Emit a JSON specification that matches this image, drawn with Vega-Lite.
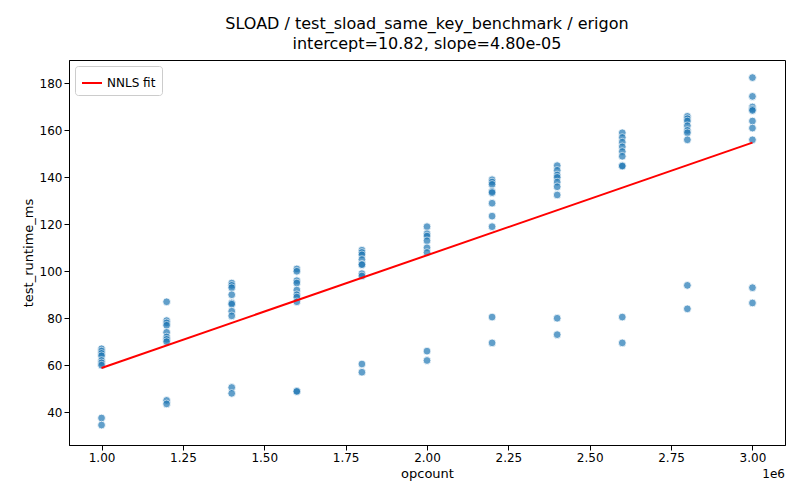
{
  "$schema": "https://vega.github.io/schema/vega-lite/v6.json",
  "width": 800,
  "height": 500,
  "autosize": {"type": "fit", "contains": "padding"},
  "padding": {"left": 22, "right": 15, "top": 16, "bottom": 20},
  "title": {
    "text": ["SLOAD / test_sload_same_key_benchmark / erigon", "intercept=10.82, slope=4.80e-05"],
    "fontSize": 16, "fontWeight": "normal", "font": "DejaVu Sans", "lineHeight": 20, "color": "black", "offset": 8
  },
  "config": {
    "font": "DejaVu Sans",
    "view": {"stroke": "black"},
    "axis": {"grid": false, "labelFontSize": 12, "titleFontSize": 13, "titleFontWeight": "normal", "domainColor": "black", "tickColor": "black", "labelColor": "black", "titleColor": "black"}
  },
  "datasets": {
    "pts": [
      {"opcount": 1000000, "ms": 67}, {"opcount": 1000000, "ms": 66}, {"opcount": 1000000, "ms": 65}, {"opcount": 1000000, "ms": 64}, {"opcount": 1000000, "ms": 62}, {"opcount": 1000000, "ms": 61}, {"opcount": 1000000, "ms": 60}, {"opcount": 1000000, "ms": 37.5}, {"opcount": 1000000, "ms": 34.5},
      {"opcount": 1200000, "ms": 87}, {"opcount": 1200000, "ms": 79}, {"opcount": 1200000, "ms": 78}, {"opcount": 1200000, "ms": 77}, {"opcount": 1200000, "ms": 74}, {"opcount": 1200000, "ms": 72}, {"opcount": 1200000, "ms": 71}, {"opcount": 1200000, "ms": 70}, {"opcount": 1200000, "ms": 45}, {"opcount": 1200000, "ms": 43.5},
      {"opcount": 1400000, "ms": 95}, {"opcount": 1400000, "ms": 94}, {"opcount": 1400000, "ms": 93}, {"opcount": 1400000, "ms": 90}, {"opcount": 1400000, "ms": 86.5}, {"opcount": 1400000, "ms": 86}, {"opcount": 1400000, "ms": 83}, {"opcount": 1400000, "ms": 81}, {"opcount": 1400000, "ms": 50.5}, {"opcount": 1400000, "ms": 48},
      {"opcount": 1600000, "ms": 101}, {"opcount": 1600000, "ms": 100}, {"opcount": 1600000, "ms": 96}, {"opcount": 1600000, "ms": 95}, {"opcount": 1600000, "ms": 92}, {"opcount": 1600000, "ms": 90}, {"opcount": 1600000, "ms": 89}, {"opcount": 1600000, "ms": 87}, {"opcount": 1600000, "ms": 49}, {"opcount": 1600000, "ms": 48.8},
      {"opcount": 1800000, "ms": 109}, {"opcount": 1800000, "ms": 108}, {"opcount": 1800000, "ms": 107}, {"opcount": 1800000, "ms": 105}, {"opcount": 1800000, "ms": 103}, {"opcount": 1800000, "ms": 102.8}, {"opcount": 1800000, "ms": 99}, {"opcount": 1800000, "ms": 98}, {"opcount": 1800000, "ms": 60.5}, {"opcount": 1800000, "ms": 57},
      {"opcount": 2000000, "ms": 119}, {"opcount": 2000000, "ms": 116}, {"opcount": 2000000, "ms": 115}, {"opcount": 2000000, "ms": 113}, {"opcount": 2000000, "ms": 110}, {"opcount": 2000000, "ms": 108}, {"opcount": 2000000, "ms": 66}, {"opcount": 2000000, "ms": 62},
      {"opcount": 2200000, "ms": 139}, {"opcount": 2200000, "ms": 138}, {"opcount": 2200000, "ms": 137}, {"opcount": 2200000, "ms": 134}, {"opcount": 2200000, "ms": 133.5}, {"opcount": 2200000, "ms": 129}, {"opcount": 2200000, "ms": 123.5}, {"opcount": 2200000, "ms": 119}, {"opcount": 2200000, "ms": 80.5}, {"opcount": 2200000, "ms": 69.5},
      {"opcount": 2400000, "ms": 145}, {"opcount": 2400000, "ms": 143}, {"opcount": 2400000, "ms": 141}, {"opcount": 2400000, "ms": 140}, {"opcount": 2400000, "ms": 138}, {"opcount": 2400000, "ms": 136}, {"opcount": 2400000, "ms": 132.5}, {"opcount": 2400000, "ms": 80}, {"opcount": 2400000, "ms": 73},
      {"opcount": 2600000, "ms": 159}, {"opcount": 2600000, "ms": 157}, {"opcount": 2600000, "ms": 155}, {"opcount": 2600000, "ms": 153}, {"opcount": 2600000, "ms": 151}, {"opcount": 2600000, "ms": 149}, {"opcount": 2600000, "ms": 145}, {"opcount": 2600000, "ms": 144.8}, {"opcount": 2600000, "ms": 80.5}, {"opcount": 2600000, "ms": 69.5},
      {"opcount": 2800000, "ms": 166}, {"opcount": 2800000, "ms": 165}, {"opcount": 2800000, "ms": 164}, {"opcount": 2800000, "ms": 162}, {"opcount": 2800000, "ms": 160}, {"opcount": 2800000, "ms": 159}, {"opcount": 2800000, "ms": 156}, {"opcount": 2800000, "ms": 94}, {"opcount": 2800000, "ms": 84},
      {"opcount": 3000000, "ms": 182.5}, {"opcount": 3000000, "ms": 174.5}, {"opcount": 3000000, "ms": 170}, {"opcount": 3000000, "ms": 169}, {"opcount": 3000000, "ms": 168.5}, {"opcount": 3000000, "ms": 164}, {"opcount": 3000000, "ms": 161}, {"opcount": 3000000, "ms": 156}, {"opcount": 3000000, "ms": 93}, {"opcount": 3000000, "ms": 86.5}
    ],
    "fit": [
      {"opcount": 1000000, "ms": 58.82, "series": "NNLS fit"},
      {"opcount": 3000000, "ms": 154.82, "series": "NNLS fit"}
    ],
    "note": [{"opcount": 3100000, "ms": 26, "label": "1e6"}]
  },
  "layer": [
    {
      "data": {"name": "pts"},
      "mark": {"type": "circle", "size": 60, "color": "#1f77b4", "opacity": 0.7, "stroke": "white", "strokeWidth": 0.8},
      "encoding": {
        "x": {"field": "opcount", "type": "quantitative", "title": "opcount",
          "scale": {"domain": [900000, 3100000], "nice": false, "zero": false},
          "axis": {"values": [1000000, 1250000, 1500000, 1750000, 2000000, 2250000, 2500000, 2750000, 3000000], "labelExpr": "format(datum.value / 1e6, '.2f')"}},
        "y": {"field": "ms", "type": "quantitative", "title": "test_runtime_ms",
          "scale": {"domain": [26, 190], "nice": false, "zero": false},
          "axis": {"values": [40, 60, 80, 100, 120, 140, 160, 180]}}
      }
    },
    {
      "data": {"name": "fit"},
      "mark": {"type": "line", "strokeWidth": 2},
      "encoding": {
        "x": {"field": "opcount", "type": "quantitative"},
        "y": {"field": "ms", "type": "quantitative"},
        "color": {"field": "series", "type": "nominal", "scale": {"range": ["red"]},
          "legend": {"title": null, "orient": "top-left", "symbolType": "stroke", "symbolStrokeWidth": 2, "symbolSize": 400, "labelFontSize": 12, "padding": 6, "strokeColor": "#cccccc", "fillColor": "white", "cornerRadius": 3, "offset": 6}}
      }
    },
    {
      "data": {"name": "note"},
      "mark": {"type": "text", "align": "right", "baseline": "top", "dy": 24, "fontSize": 12, "color": "black"},
      "encoding": {
        "x": {"field": "opcount", "type": "quantitative"},
        "y": {"field": "ms", "type": "quantitative"},
        "text": {"field": "label"}
      }
    }
  ]
}
